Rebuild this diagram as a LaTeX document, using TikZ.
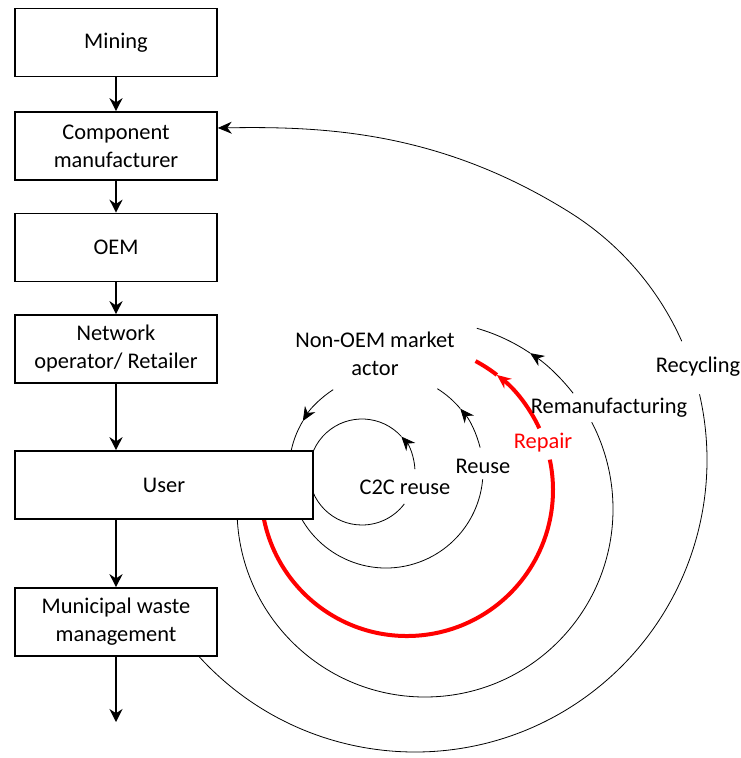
\documentclass[tikz,border=0pt]{standalone}
\usepackage{fontspec}
\setmainfont{Carlito}
\usetikzlibrary{arrows.meta,backgrounds}
\begin{document}
\begin{tikzpicture}[x=.5pt, y=-.5pt, font=\fontsize{11.2}{14}\selectfont,
	box/.style={draw, line width=.8pt, fill=white, minimum width=101pt, minimum height=34pt, align=center, inner sep=1pt},
	flow/.style={line width=.8pt, -{Stealth[length=6.5pt,width=6.5pt]}},
	cyc/.style={line width=.5pt},
	arr/.style={-{Stealth[length=7pt,width=6pt]}},
	rep/.style={line width=2pt, draw=red}]
	\useasboundingbox (0,0) rectangle (740,758);
	% Kette
	\node[box] (mining) at (116,42.5) {Mining};
	\node[box] (comp)   at (116,146)  {Component\\manufacturer};
	\node[box] (oem)    at (116,247.5){OEM};
	\node[box] (net)    at (116,349)  {Network\\operator/ Retailer};
	\node[box, minimum width=149pt] (user) at (164,485) {User};
	\node[box] (mwm)    at (116,622)  {Municipal waste\\management};
	\coordinate (end) at (116,722);
	\draw[flow] (mining) -- (comp);
	\draw[flow] (comp) -- (oem);
	\draw[flow] (oem) -- (net);
	\draw[flow] (net) -- (net.south |- user.north);
	\draw[flow] (user.south -| mwm.north) -- (mwm);
	\draw[flow] (mwm) -- (end);
	% Kreislaeufe
	\coordinate (cA) at (362,472);
	\coordinate (cB) at (386,471);
	\coordinate (cC) at (407,490);
	\coordinate (cD) at (425,509);
	\coordinate (cE) at (415,460);
	\begin{scope}[on background layer, cyc]
	\draw      (cA) ++(180:53) arc[start angle=180, end angle=37, radius=53];
	\draw[arr] (cA) ++(-3:53)  arc[start angle=-3, end angle=-42, radius=53];
	\draw      (cA) ++(-42:53) arc[start angle=-42, end angle=-180, radius=53];
	\draw      (cB) ++(160:97)  arc[start angle=160, end angle=5, radius=97];
	\draw[arr] (cB) ++(-14:97)  arc[start angle=-14, end angle=-40, radius=97];
	\draw      (cB) ++(-40:97)  arc[start angle=-40, end angle=-58, radius=97];
	\draw[arr] (cB) ++(-123:97) arc[start angle=-123, end angle=-149, radius=97];
	\draw      (cB) ++(-149:97) arc[start angle=-149, end angle=-190, radius=97];
	\draw[rep]      (cC) ++(175:146) arc[start angle=175, end angle=-12, radius=146];
	\draw[rep, arr] (cC) ++(-25:146) arc[start angle=-25, end angle=-52, radius=146];
	\draw[rep]      (cC) ++(-52:146) arc[start angle=-52, end angle=-62, radius=146];
	\draw      (cD) ++(179:188) arc[start angle=179, end angle=-27.5, radius=188];
	\draw[arr] (cD) ++(-38:188) arc[start angle=-38, end angle=-56, radius=188];
	\draw      (cD) ++(-56:188) arc[start angle=-56, end angle=-74, radius=188];
	\draw      (cE) ++(138:292) arc[start angle=138, end angle=-13, radius=292];
	\draw[arr] (cE) ++(-24:292) arc[start angle=-24, end angle=-58, radius=292]
		.. controls +(-128,-80) and +(110,-2) .. ([yshift=9pt]comp.east);
	\end{scope}
	\node[align=center] (actor) at (375,354) {Non-OEM market\\actor};
	\node (c2c)   at (405,487) {C2C reuse};
	\node (reuse) at (483,466) {Reuse};
	\node[red] (repair) at (543,443) {Repair};
	\node (reman) at (609,408) {Remanufacturing};
	\node (recyc) at (698,367) {Recycling};
\end{tikzpicture}
\end{document}
